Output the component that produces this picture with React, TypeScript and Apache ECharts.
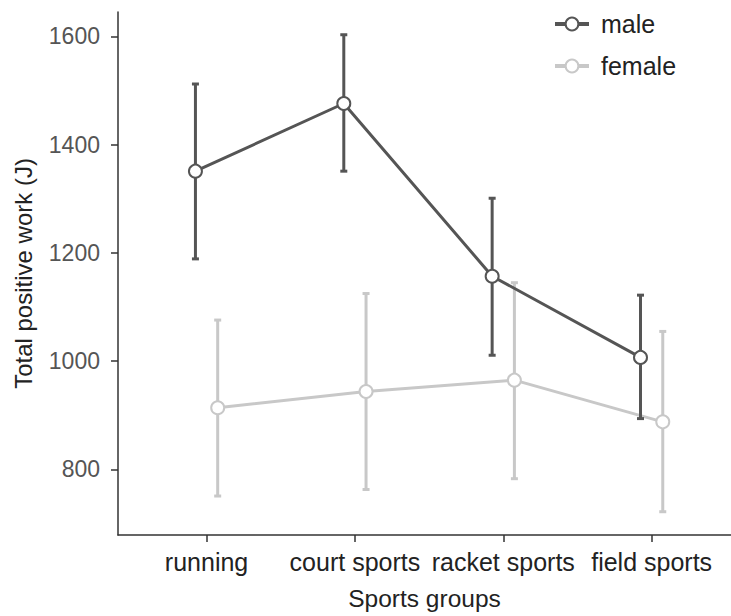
import React, { useEffect, useRef } from "react";
import * as echarts from "echarts";

const categories = ["running", "court sports", "racket sports", "field sports"];
const maleMean = [1351, 1476, 1157, 1007];
const maleUpper = [1512, 1603, 1301, 1122];
const maleLower = [1189, 1351, 1011, 894];
const femaleMean = [914, 944, 965, 888];
const femaleUpper = [1076, 1125, 1145, 1055];
const femaleLower = [751, 763, 783, 722];
const yTicks = [800, 1000, 1200, 1400, 1600];
const xTicks = [1, 2, 3, 4];

const MALE = "#555555";
const FEMALE = "#c8c8c8";
const FONT = "Liberation Sans, Arial, Helvetica, sans-serif";
const DODGE = 0.075;

function errorBars(color: string) {
  return (params: any, api: any) => {
    const x = api.value(0);
    const lo = api.value(1);
    const hi = api.value(2);
    const pLo = api.coord([x, lo]);
    const pHi = api.coord([x, hi]);
    const cap = 3.5;
    const style = { stroke: color, lineWidth: 3 };
    return {
      type: "group",
      children: [
        { type: "line", shape: { x1: pLo[0], y1: pLo[1], x2: pHi[0], y2: pHi[1] }, style },
        { type: "line", shape: { x1: pLo[0] - cap, y1: pLo[1], x2: pLo[0] + cap, y2: pLo[1] }, style: { stroke: color, lineWidth: 3 } },
        { type: "line", shape: { x1: pHi[0] - cap, y1: pHi[1], x2: pHi[0] + cap, y2: pHi[1] }, style: { stroke: color, lineWidth: 3 } },
      ],
    };
  };
}

export default function App() {
  const ref = useRef<HTMLDivElement>(null);
  useEffect(() => {
    if (!ref.current) return;
    const chart = echarts.init(ref.current, null, { renderer: "svg" });
    const maleX = xTicks.map((v) => v - DODGE);
    const femaleX = xTicks.map((v) => v + DODGE);
    const lineSeries = (name: string, xs: number[], ys: number[], color: string, z: number) => ({
      type: "line",
      name,
      data: xs.map((x, i) => [x, ys[i]]),
      symbol: "circle",
      symbolSize: 13,
      z,
      lineStyle: { color, width: 3 },
      itemStyle: { color: "#ffffff", borderColor: color, borderWidth: 2 },
      emphasis: { disabled: true },
    });
    chart.setOption({
      animation: false,
      grid: { left: 118, right: 0, top: 12, bottom: 79 },
      legend: {
        data: ["male", "female"],
        orient: "vertical",
        left: 553,
        top: 10,
        padding: 0,
        itemWidth: 34,
        itemHeight: 16,
        itemGap: 14,
        lineStyle: { width: 4 },
        textStyle: { fontSize: 25, color: "#222222", fontFamily: FONT, lineHeight: 28, padding: [0, 0, 0, 7] },
      },
      xAxis: {
        type: "value",
        min: 0.403,
        max: 4.535,
        name: "Sports groups",
        nameLocation: "middle",
        nameGap: 51,
        nameTextStyle: { fontSize: 24.5, color: "#222222", fontFamily: FONT },
        axisLine: { lineStyle: { color: "#333333", width: 1.5 } },
        axisTick: { customValues: xTicks, length: 7, lineStyle: { color: "#333333", width: 1.5 } },
        axisLabel: {
          customValues: xTicks,
          formatter: (v: number) => categories[Math.round(v) - 1] ?? "",
          fontSize: 25,
          color: "#222222",
          fontFamily: FONT,
          margin: 14,
        },
        splitLine: { show: false },
      },
      yAxis: {
        type: "value",
        min: 679,
        max: 1645,
        name: "Total positive work (J)",
        nameLocation: "middle",
        nameGap: 83,
        nameTextStyle: { fontSize: 24, color: "#222222", fontFamily: FONT },
        axisLine: { show: true, lineStyle: { color: "#333333", width: 1.5 } },
        axisTick: { show: true, customValues: yTicks, length: 7, lineStyle: { color: "#333333", width: 1.5 } },
        axisLabel: {
          customValues: yTicks,
          formatter: (v: number) => String(v),
          fontSize: 23,
          color: "#555555",
          fontFamily: FONT,
          margin: 18,
        },
        splitLine: { show: false },
      },
      series: [
        {
          type: "custom",
          name: "female-err",
          renderItem: errorBars(FEMALE),
          encode: { x: 0, y: [1, 2] },
          data: femaleX.map((x, i) => [x, femaleLower[i], femaleUpper[i]]),
          z: 1,
          silent: true,
        },
        lineSeries("female", femaleX, femaleMean, FEMALE, 2),
        {
          type: "custom",
          name: "male-err",
          renderItem: errorBars(MALE),
          encode: { x: 0, y: [1, 2] },
          data: maleX.map((x, i) => [x, maleLower[i], maleUpper[i]]),
          z: 3,
          silent: true,
        },
        lineSeries("male", maleX, maleMean, MALE, 4),
      ],
    });
    return () => chart.dispose();
  }, []);
  return <div ref={ref} style={{ position: "absolute", left: 0, top: 0, width: 731, height: 616 }} />;
}
